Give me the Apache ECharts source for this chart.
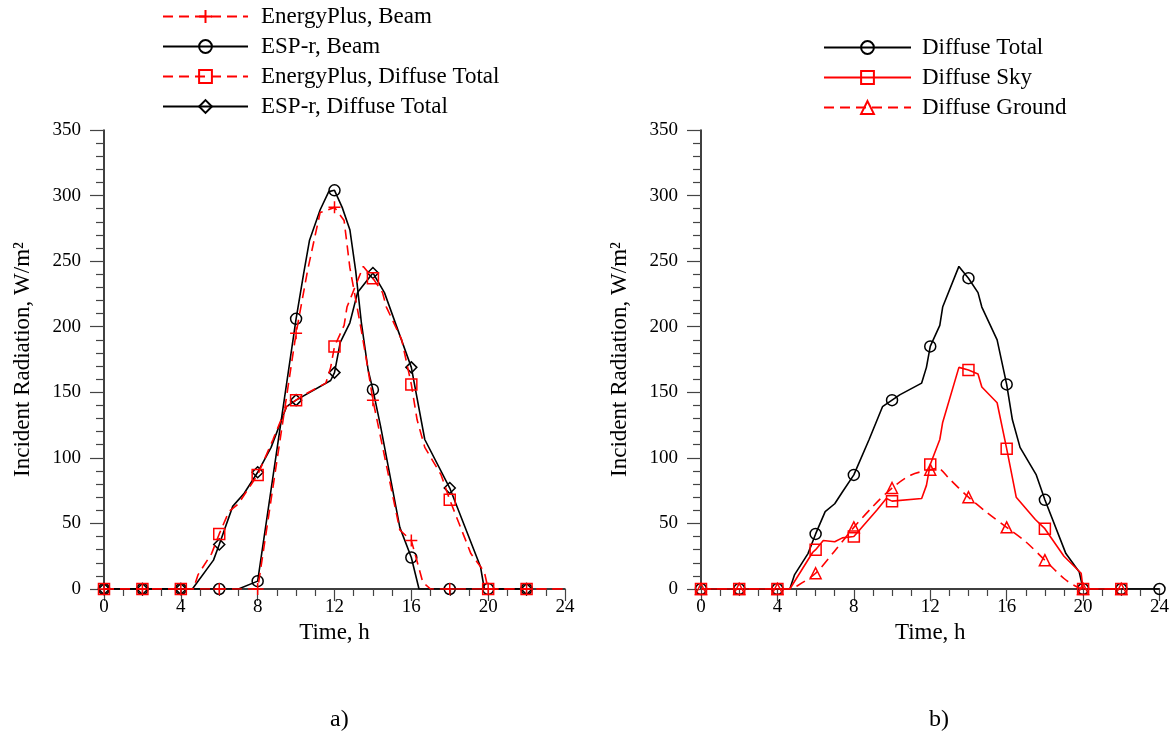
<!DOCTYPE html>
<html><head><meta charset="utf-8">
<script src="https://cdn.jsdelivr.net/npm/echarts@6/dist/echarts.min.js"></script>
<style>html,body{margin:0;padding:0;background:#fff}#c{width:1172px;height:740px}</style>
</head><body><div id="c"></div>
<script>
// ---------- data (hours, values in W/m2) ----------
const xTickLabels = [0, 4, 8, 12, 16, 20, 24];
const yTickLabels = [0, 50, 100, 150, 200, 250, 300, 350];

// panel a)
const epBeamH = [0,2,4,6,8,10,10.6,11.25,12,12.5,12.8,13.4,13.75,14,15.4,16,16.6,17,18,20,22,24];
const epBeamV = [0,0,0,0,0,195,243,287,291,281,245,197,167,144,45,37,5,0,0,0,0,0];

const espBeamH = [0,2,4,6,7,8,10,10.4,10.7,11.25,11.7,12,12.4,12.8,13.1,13.4,13.75,14,14.4,15.4,16,16.2,16.4,18,20,22];
const espBeamV = [0,0,0,0,0,6,206,241,266,289,303,304,291,274,243,203,167,152,124,47,24,12,0,0,0,0];

const diffTotalH = [0,2,4,4.65,4.9,5.6,6,6.5,7,7.4,8,8.8,9.5,10,10.4,11.55,11.8,12,12.5,12.65,13.5,14,14.5,14.7,15.5,16,16.3,16.7,17.55,18,19.1,19.8,20,22,24];
const diffTotalV = [0,0,0,0,11,27,42,59,65,74,87,114,139,144,148,157,169,185,201,215,246,237,226,215,190,156,129,108,87,68,27,13,0,0,0];

const espDiffH = [0,2,4,4.6,5.7,6,6.7,7.3,8,8.7,9.5,10,11.8,12,12.3,12.8,13.2,14,14.6,16,16.7,18,19.6,19.8,22];
const espDiffV = [0,0,0,0,22,34,63,73,89,108,139,144,159,165,188,203,226,241,226,169,114,77,17,0,0];

// panel b)
const skyH = [0,2,4,4.65,5.85,6,6.4,7,7.4,8,8.3,9.2,9.7,10,11.55,11.8,12,12.5,12.65,13.5,14,14.5,14.7,15.5,16,16.5,17.5,18,19,19.9,20,22];
const skyV = [0,0,0,0,28,30,37,36,39,40,45,60,69,67,69,79,95,114,127,169,167,164,154,142,107,70,53,46,25,12,0,0];

const groundH = [0,2,4,4.65,5,6,7,8,9,10,11,12,12.4,13,14,15,16,17,18,19,19.5,20,22];
const groundV = [0,0,0,0,2,12,29,47,63,77,87,91,92,84,70,58,47,36,22,8,3,0,0];

// ---------- helpers ----------
const FONT = 'Liberation Serif';
const RED = '#ff0000', BLACK = '#000000';
const PLUS = 'path://M0,5L10,5M5,0L5,10';

function build(hs, vs, lastMarker) {
  return hs.map((h, i) => {
    const isMarker = Number.isInteger(h) && h % 2 === 0 && h <= lastMarker;
    return isMarker ? { value: [h, vs[i]] } : { value: [h, vs[i]], symbol: 'none' };
  });
}

function mkSeries(name, hs, vs, idx, color, dashed, symbol, size, lastMarker, z, smooth) {
  return {
    name: name, type: 'line', xAxisIndex: idx, yAxisIndex: idx,
    data: build(hs, vs, lastMarker),
    symbol: symbol, symbolSize: size, showAllSymbol: true,
    smooth: smooth || false,
    z: z,
    lineStyle: { color: color, width: 1.6, type: dashed ? [10, 6] : 'solid' },
    itemStyle: { color: 'rgba(0,0,0,0)', borderColor: color, borderWidth: 1.5 },
    emphasis: { disabled: true }
  };
}

function xAxisCfg(idx) {
  return {
    type: 'value', gridIndex: idx, min: 0, max: 24, interval: 4,
    axisLine: { show: true, onZero: false, lineStyle: { color: '#000', width: 1.5 } },
    axisTick: { show: true, length: 12, lineStyle: { color: '#444', width: 1.2 } },
    minorTick: { show: true, splitNumber: 4, length: 7, lineStyle: { color: '#444', width: 1.2 } },
    splitLine: { show: false },
    axisLabel: { color: '#000', fontFamily: FONT, fontSize: 19, margin: 9,
      formatter: v => xTickLabels.includes(v) ? String(v) : '' },
    name: 'Time, h', nameLocation: 'middle', nameGap: 24,
    nameTextStyle: { color: '#000', fontFamily: FONT, fontSize: 23 }
  };
}
function yAxisCfg(idx) {
  return {
    type: 'value', gridIndex: idx, min: 0, max: 350, interval: 50,
    axisLine: { show: true, lineStyle: { color: '#000', width: 1.5 } },
    axisTick: { show: true, length: 14, lineStyle: { color: '#444', width: 1.2 } },
    minorTick: { show: true, splitNumber: 5, length: 8, lineStyle: { color: '#444', width: 1.2 } },
    splitLine: { show: false },
    axisLabel: { color: '#000', fontFamily: FONT, fontSize: 19, margin: 23,
      formatter: v => yTickLabels.includes(v) ? String(v) : '' },
    name: 'Incident Radiation, W/m²', nameLocation: 'middle', nameGap: 70, nameRotate: 90,
    nameTextStyle: { color: '#000', fontFamily: FONT, fontSize: 23 }
  };
}

const legendTextA = { color: '#000', fontFamily: FONT, fontSize: 23, lineHeight: 25, padding: [0, 0, 0, 8] };
const legendTextB = { color: '#000', fontFamily: FONT, fontSize: 23, lineHeight: 25, padding: [0, 0, 0, 6] };

const option = {
  animation: false,
  backgroundColor: '#fff',
  grid: [
    { left: 104, top: 130, width: 461, height: 459 },
    { left: 701, top: 130, width: 459, height: 459 }
  ],
  xAxis: [xAxisCfg(0), xAxisCfg(1)],
  yAxis: [yAxisCfg(0), yAxisCfg(1)],
  legend: [
    { orient: 'vertical', left: 157, top: -1, padding: 5, itemWidth: 85, itemHeight: 16, itemGap: 5,
      textStyle: legendTextA, selectedMode: false,
      data: ['EnergyPlus, Beam', 'ESP-r, Beam', 'EnergyPlus, Diffuse Total', 'ESP-r, Diffuse Total'] },
    { orient: 'vertical', left: 818, top: 30, padding: 5, itemWidth: 87, itemHeight: 16, itemGap: 5,
      textStyle: legendTextB, selectedMode: false,
      data: ['Diffuse Total', 'Diffuse Sky', 'Diffuse Ground'] }
  ],
  graphic: [
    { type: 'text', left: 330, top: 708, style: { text: 'a)', font: '24px "Liberation Serif"', fill: '#000' } },
    { type: 'text', left: 929, top: 708, style: { text: 'b)', font: '24px "Liberation Serif"', fill: '#000' } }
  ],
  series: [
    mkSeries('EnergyPlus, Beam', epBeamH, epBeamV, 0, RED, true, PLUS, 12, 22, 6),
    mkSeries('ESP-r, Beam', espBeamH, espBeamV, 0, BLACK, false, 'circle', 11, 22, 3),
    mkSeries('EnergyPlus, Diffuse Total', diffTotalH, diffTotalV, 0, RED, true, 'rect', 11, 22, 5),
    mkSeries('ESP-r, Diffuse Total', espDiffH, espDiffV, 0, BLACK, false, 'diamond', 11, 22, 4),
    mkSeries('Diffuse Total', diffTotalH, diffTotalV, 1, BLACK, false, 'circle', 11, 24, 3),
    mkSeries('Diffuse Sky', skyH, skyV, 1, RED, false, 'rect', 11, 22, 5),
    mkSeries('Diffuse Ground', groundH, groundV, 1, RED, true, 'triangle', 11, 22, 4, 0.3)
  ]
};

const chart = echarts.init(document.getElementById('c'), null, { renderer: 'canvas' });
chart.setOption(option);
</script>
</body></html>
